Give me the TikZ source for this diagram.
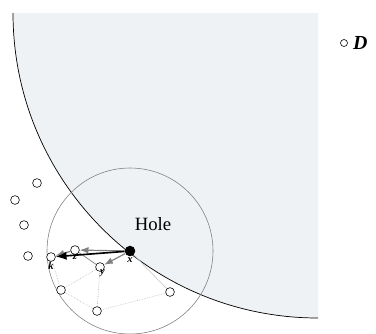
\documentclass[tikz,border=0pt]{standalone}
\usepackage{fontspec}
\setmainfont{Liberation Serif}
\usetikzlibrary{arrows.meta,positioning}
\definecolor{holefill}{HTML}{EEF2F5}

\begin{document}
\begin{tikzpicture}[x=0.03cm, y=-0.03cm, >=Latex,
  pt/.style={draw, circle, fill=white, inner sep=0pt, minimum size=7.5pt, line width=0.5pt},
  src/.style={circle, fill=black, inner sep=0pt, minimum size=9pt},
  lab/.style={font=\small\bfseries\itshape, inner sep=1pt},
  link/.style={gray!60, densely dotted, line width=0.5pt},
  hop/.style={->, gray, line width=1pt}]
\useasboundingbox (0,0) rectangle (376,333);
% hole region
\fill[holefill] (13,13) arc[start angle=180, end angle=90, radius=305] -- (318,13) -- cycle;
\draw[line width=0.6pt] (13,13) arc[start angle=180, end angle=90, radius=305];
\node[font=\fontsize{16}{18}\selectfont] (hole) at (153,224) {Hole};
% range of x
\draw[gray, line width=0.5pt] (130,251) circle[radius=83];
% nodes
\node[src] (x) at (130,251) {};
\node[pt] (k) at (51,257) {};
\node[pt] (z) at (75,250) {};
\node[pt] (y) at (100,267) {};
\node[pt] (a) at (61,290) {};
\node[pt] (b) at (97,311) {};
\node[pt] (c) at (170,292) {};
\node[pt] (o1) at (37,183) {};
\node[pt] (o2) at (15,200) {};
\node[pt] (o3) at (24,225) {};
\node[pt] (o4) at (28,256) {};
\node[lab, below=-1pt of k] {k};
\node[lab, below=-1pt of z] {z};
\node[lab, below right=-2pt and -4pt of y] {y};
\node[lab, below=0pt of x] {x};
% links
\draw[link] (k) -- (a);
\draw[link] (a) -- (y);
\draw[link] (a) -- (b);
\draw[link] (y) -- (b);
\draw[link] (b) -- (c);
\draw[gray!45, line width=0.5pt] (x) -- (c);
\draw[gray, line width=0.6pt] (z) -- (y);
\draw[hop] (x) -- (z);
\draw[hop] (z) -- (k);
\draw[hop] (x) -- (y);
\draw[->, line width=1.4pt] (x) -- (k);
% legend
\node[draw, circle, inner sep=0pt, minimum size=6pt, line width=0.5pt] (leg) at (344,43) {};
\node[font=\fontsize{17}{19}\selectfont\bfseries\itshape, right=1pt of leg] (legD) {D};
\end{tikzpicture}
\end{document}
